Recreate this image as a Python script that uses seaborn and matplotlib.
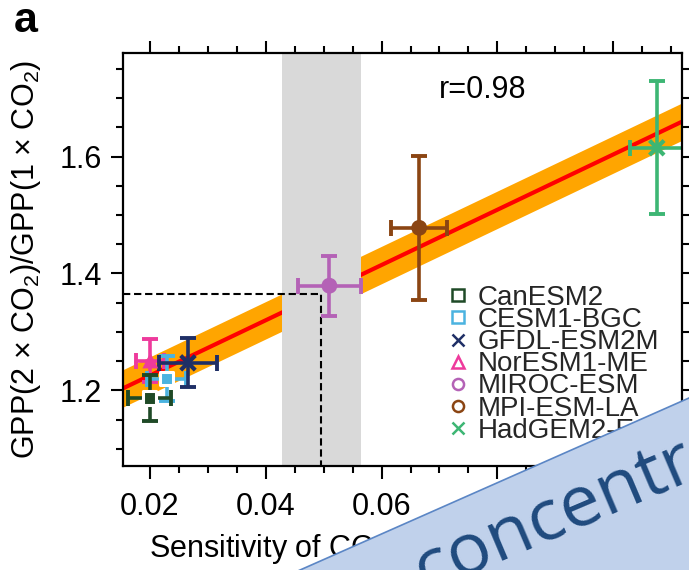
import numpy as np
import pandas as pd
import matplotlib
matplotlib.use("Agg")
import matplotlib.pyplot as plt
from matplotlib.lines import Line2D
from matplotlib.patches import Polygon
from matplotlib.ticker import MultipleLocator
import seaborn as sns

# ---------------- data ----------------
models = ["CanESM2", "CESM1-BGC", "GFDL-ESM2M", "NorESM1-ME",
          "MIROC-ESM", "MPI-ESM-LA", "HadGEM2-ES"]
sens_x = [0.0200, 0.0229, 0.0266, 0.0201, 0.0510, 0.0665, 0.1075]
sens_xerr = [0.0037, 0.0034, 0.0050, 0.0024, 0.0054, 0.0048, 0.0047]
gpp_ratio = [1.187, 1.220, 1.247, 1.251, 1.379, 1.478, 1.615]
gpp_err = [0.039, 0.039, 0.042, 0.036, 0.051, 0.123, 0.114]
colors = ["#1f4a27", "#4bb3e0", "#1f2f66", "#ee3a9c",
          "#b462b6", "#8b4513", "#3db674"]
marker_shapes = ["s", "s", "x", "^", "o", "o", "x"]

fit_intercept = 1.1306
fit_slope = 4.73
fit_halfwidth = 0.032
obs_sens = 0.0496
obs_sens_err = 0.0068
r_text = "r=0.98"
x_ticks = [0.02, 0.04, 0.06, 0.08, 0.10]
x_ticklabels = ["0.02", "0.04", "0.06", "0.08", "0.10"]
y_ticks = [1.2, 1.4, 1.6]
y_ticklabels = ["1.2", "1.4", "1.6"]

W, H = 689, 570
sns.set_theme(style="ticks")
plt.rcParams["font.family"] = ["Liberation Sans", "DejaVu Sans"]
plt.rcParams["mathtext.fontset"] = "custom"
plt.rcParams["mathtext.rm"] = "Liberation Sans"
plt.rcParams["mathtext.it"] = "Liberation Sans:italic"

fig = plt.figure(figsize=(W / 100, H / 100), dpi=100)
fig.patch.set_facecolor("white")
L, R, T, B = 122.5, 681.7, 52.5, 466.3
ax = fig.add_axes([L / W, 1 - B / H, (R - L) / W, (B - T) / H])
ax.set_facecolor("white")

xlim = (0.0153, 0.1118)
ylim = (1.070, 1.778)

# regression band + line
xg = np.linspace(xlim[0], xlim[1], 200)
fit_df = pd.DataFrame({"x": xg, "y": fit_intercept + fit_slope * xg})
ax.fill_between(xg, fit_df["y"] - fit_halfwidth, fit_df["y"] + fit_halfwidth,
                color="#ffa500", lw=0, zorder=1)
sns.lineplot(data=fit_df, x="x", y="y", color="#ff0000", lw=3, ax=ax, zorder=2)

# observational constraint
ax.axvspan(obs_sens - obs_sens_err, obs_sens + obs_sens_err,
           color="#d9d9d9", lw=0, zorder=3)
y_obs = fit_intercept + fit_slope * obs_sens
ax.plot([xlim[0], obs_sens, obs_sens], [y_obs, y_obs, ylim[0]],
        color="black", lw=1.5, ls=(0, (3.5, 1.8)), zorder=4)

# model error bars & markers
df = pd.DataFrame({"model": models, "x": sens_x, "y": gpp_ratio})
order = [5, 4, 3, 1, 2, 0, 6]
for i in order:
    ax.errorbar(sens_x[i], gpp_ratio[i], xerr=sens_xerr[i], yerr=gpp_err[i],
                fmt="none", ecolor=colors[i], elinewidth=2.6, capsize=6,
                capthick=2.8, zorder=5)
pal = dict(zip(models, colors))


def draw_group(names, **kw):
    sub = df[df["model"].isin(names)]
    mk = {n: marker_shapes[models.index(n)] for n in names}
    pl = {n: pal[n] for n in names}
    sns.scatterplot(data=sub, x="x", y="y", hue="model", style="model",
                    hue_order=names, style_order=names,
                    palette=pl, markers=mk, legend=False, ax=ax, zorder=6, **kw)


draw_group(["CanESM2", "CESM1-BGC"], s=90, facecolor="none", linewidth=2.2)
draw_group(["NorESM1-ME", "MIROC-ESM", "MPI-ESM-LA"], s=130, linewidth=0)
draw_group(["GFDL-ESM2M", "HadGEM2-ES"], s=110, linewidth=3)

ax.set_xlim(*xlim)
ax.set_ylim(*ylim)
ax.xaxis.set_minor_locator(MultipleLocator(0.005))
ax.yaxis.set_minor_locator(MultipleLocator(0.05))
ax.set_xticks(x_ticks)
ax.set_xticklabels(x_ticklabels)
ax.set_yticks(y_ticks)
ax.set_yticklabels(y_ticklabels)
ax.tick_params(which="both", direction="out", top=True, right=True,
               width=1.5, color="black", labelsize=22, labelcolor="black")
ax.tick_params(which="major", length=9)
ax.tick_params(which="minor", length=4.8)
ax.tick_params(axis="x", which="major", pad=9.5)
ax.tick_params(axis="y", which="major", pad=5.5)
for sp in ax.spines.values():
    sp.set_linewidth(1.6)
    sp.set_color("black")
    sp.set_visible(True)
    sp.set_zorder(10)

ax.set_xlabel("")
ax.set_ylabel("GPP(2 \u00d7 CO$_2$)/GPP(1 \u00d7 CO$_2$)",
              fontsize=22, color="black")
ax.yaxis.label.set_va("baseline")
ax.yaxis.set_label_coords((34 - L) / (R - L), 0.5)

fig.text(149 / W, 1 - 557 / H, r"Sensitivity of CO$_2$ amplitude to CO$_2$",
         fontsize=22, ha="left", va="baseline", color="black")

ax.text((482.5 - L) / (R - L), (B - 98) / (B - T), r_text, fontsize=22,
        ha="center", va="baseline", transform=ax.transAxes, color="black")

fig.text(14 / W, 1 - 32 / H, "a", fontsize=31, fontweight="bold",
         ha="left", va="baseline", color="black")

# legend
handles = []
for c, m in zip(colors, marker_shapes):
    handles.append(Line2D([], [], ls="none", marker=m, markersize=8,
                          markerfacecolor="none", markeredgecolor=c,
                          markeredgewidth=1.8))
leg = ax.legend(handles, models, loc="upper left",
                bbox_to_anchor=(447.5 / W, 1 - 285.0 / H),
                bbox_transform=fig.transFigure, frameon=False, fontsize=20,
                handlelength=0.76, handletextpad=0.33, labelspacing=-0.14,
                borderpad=0, borderaxespad=0)
leg.set_zorder(7)

# overlay banner
poly = Polygon([((187) / W, 1 - 620 / H), (760 / W, 1 - 366.6 / H),
                (760 / W, 1 - 620 / H)], closed=True,
               transform=fig.transFigure, facecolor="#c0d1eb",
               edgecolor="#5b86c5", lw=1.2, zorder=20)
fig.add_artist(poly)
fig.text(425 / W, 1 - 592 / H, "concentration", fontsize=52,
         rotation=23, rotation_mode="anchor", ha="left", va="baseline",
         color="#1f4a7e", zorder=21, fontfamily=["Open Sans", "DejaVu Sans"])

fig.savefig("out.png", dpi=100)
